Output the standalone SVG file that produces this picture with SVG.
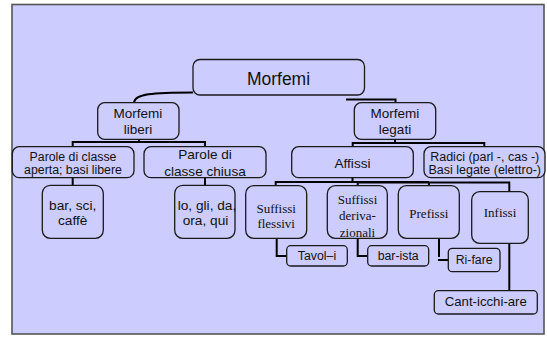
<svg xmlns="http://www.w3.org/2000/svg" width="547" height="337" viewBox="0 0 547 337">
<style>
.bx{fill:#ccccff;stroke:#1a1a1a;stroke-width:1.3}
.c{fill:none;stroke:#000;stroke-width:2}
.s{font-family:"Liberation Sans",Arial,sans-serif;fill:#111;text-anchor:middle}
.t{font-family:"Liberation Serif","Times New Roman",serif;fill:#111;text-anchor:middle;font-size:13px}
</style>
<rect x="0" y="0" width="547" height="337" fill="#ffffff"/>
<rect x="12" y="4.5" width="532" height="329.5" fill="#ccccff" stroke="#555" stroke-width="1.6"/>
<g id="connectors">
<path class="c" d="M193,92.5 C152,92.5 135,94 134,102.5"/>
<path class="c" d="M346,99.5 H395.5 V103"/>
<path class="c" d="M139,139.5 V142 M72.7,147 V142 H205 V147"/>
<path class="c" d="M395,139.5 V143 M352.7,147 V143 H484.3 V147"/>
<path class="c" d="M72.7,178 V185.5 M205,178 V185.5"/>
<path class="c" d="M352.5,178 V182.5 M275.7,186 V182 H429 M357.7,186 V182.5 H509.3 V192 M429,182 V186"/>
<path class="c" d="M276.7,238.5 V256 H287"/>
<path class="c" d="M357.7,238.5 V256 H368"/>
<path class="c" d="M439,238.5 V257 M438,260 H448.5"/>
<path class="c" d="M509.3,243.5 V291"/>
</g>
<g id="morfemi"><rect class="bx" x="193" y="59.5" width="171.5" height="35.5" rx="7"/><text class="s" x="278.5" y="85" font-size="17.5">Morfemi</text></g>
<g id="morfemi-liberi"><rect class="bx" x="97.7" y="102.7" width="81.3" height="36.6" rx="7"/><text class="s" x="138" y="118.3" font-size="13.5">Morfemi</text><text class="s" x="138" y="134.3" font-size="13.5">liberi</text></g>
<g id="morfemi-legati"><rect class="bx" x="354.3" y="102.7" width="81.4" height="36.6" rx="7"/><text class="s" x="395" y="118.3" font-size="13.5">Morfemi</text><text class="s" x="395" y="134.3" font-size="13.5">legati</text></g>
<g id="parole-aperta"><rect class="bx" x="12.3" y="146.7" width="121.7" height="31" rx="7"/><text class="s" x="73" y="160.7" font-size="12.3">Parole di classe</text><text class="s" x="73" y="174.3" font-size="12.3">aperta; basi libere</text></g>
<g id="parole-chiusa"><rect class="bx" x="144" y="146.7" width="122" height="31" rx="7"/><text class="s" x="205" y="159.3" font-size="13.6">Parole di</text><text class="s" x="205" y="176" font-size="13.6">classe chiusa</text></g>
<g id="affissi"><rect class="bx" x="291.7" y="146.7" width="121.6" height="31" rx="7"/><text class="s" x="352.5" y="168.3" font-size="13.6">Affissi</text></g>
<g id="radici"><rect class="bx" x="424" y="146.7" width="121" height="31" rx="7"/><text class="s" x="484.7" y="160.7" font-size="12.5">Radici (parl -, cas -)</text><text class="s" x="484.7" y="174.3" font-size="12.5">Basi legate (elettro-)</text></g>
<g id="bar-sci"><rect class="bx" x="42.3" y="185.3" width="61" height="53" rx="8"/><text class="s" x="72.7" y="210" font-size="13.7">bar, sci,</text><text class="s" x="72.7" y="225" font-size="13.7">caffè</text></g>
<g id="lo-gli"><rect class="bx" x="174.7" y="185.3" width="60.3" height="53" rx="8"/><text class="s" x="207" y="210" font-size="13.7">lo, gli, da,</text><text class="s" x="205.5" y="225" font-size="13.7">ora, qui</text></g>
<g id="suffissi-flessivi"><rect class="bx" x="245.7" y="185.7" width="61" height="52.6" rx="8"/><text class="t" x="276.2" y="213.3">Suffissi</text><text class="t" x="276.2" y="228.3">flessivi</text></g>
<g id="suffissi-derivazionali"><rect class="bx" x="327.3" y="185.7" width="60" height="52.6" rx="8"/><text class="t" x="357.5" y="204">Suffissi</text><text class="t" x="357.5" y="220">deriva-</text><text class="t" x="357.5" y="236.5">zionali</text></g>
<g id="prefissi"><rect class="bx" x="398.3" y="185.7" width="61" height="52.6" rx="8"/><text class="t" x="428.8" y="217.7">Prefissi</text></g>
<g id="infissi"><rect class="bx" x="471.7" y="191.7" width="56.6" height="51.6" rx="8"/><text class="t" x="500" y="216.7">Infissi</text></g>
<g id="tavol-i"><rect class="bx" x="286.7" y="245.7" width="60.6" height="20.3" rx="4"/><text class="s" x="317" y="260" font-size="12.3">Tavol–i</text></g>
<g id="bar-ista"><rect class="bx" x="367.7" y="245.7" width="61" height="20.3" rx="4"/><text class="s" x="398.2" y="260" font-size="12.3">bar-ista</text></g>
<g id="ri-fare"><rect class="bx" x="448.3" y="248.3" width="51.7" height="23.4" rx="4"/><text class="s" x="474.2" y="264.3" font-size="12.3">Ri-fare</text></g>
<g id="cant-icchi-are"><rect class="bx" x="434.3" y="290.7" width="103" height="23.3" rx="4"/><text class="s" x="485.8" y="305.7" font-size="13.2">Cant-icchi-are</text></g>
</svg>
